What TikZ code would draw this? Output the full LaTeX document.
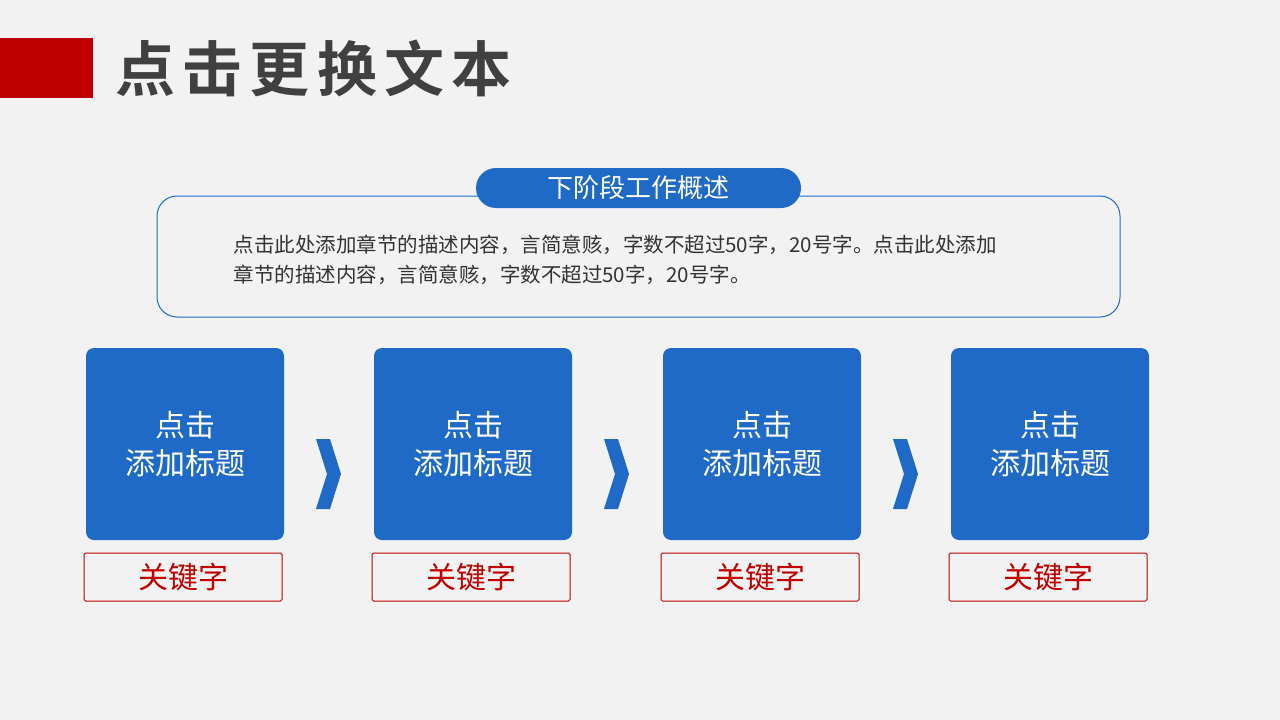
\documentclass[tikz,border=0pt]{standalone}
\usepackage{fontspec}
\newfontfamily\cjk{Noto Sans CJK SC}
\newfontfamily\cjkbold{Noto Sans CJK SC Bold}
\definecolor{bgray}{HTML}{F2F2F2}
\definecolor{mainblue}{HTML}{1F69C7}
\definecolor{mainred}{HTML}{C00000}
\definecolor{titlegray}{HTML}{404040}
\tikzset{
  stepbox/.style={fill=mainblue,rounded corners=8pt,minimum width=198pt,minimum height=192pt,text=white,font=\cjk\fontsize{30}{38}\selectfont,align=center},
  keybox/.style={draw=mainred,line width=1pt,rounded corners=1.5pt,minimum width=198pt,minimum height=48pt,text=mainred,font=\cjk\fontsize{30}{34}\selectfont},
  chevron/.style={fill=mainblue}
}
\begin{document}
\begin{tikzpicture}[x=1pt,y=-1pt]
% Hintergrund
\fill[bgray] (0,0) rectangle (1280,720);
\useasboundingbox (0,0) rectangle (1280,720);

% Titel
\fill[mainred] (0,38) rectangle (93,98);
\node[anchor=west,text=titlegray,font=\cjkbold\fontsize{60}{60}\selectfont\addfontfeature{LetterSpace=12}] (title) at (112,68) {点击更换文本};

% Beschreibung
\draw[mainblue,line width=1pt,rounded corners=20pt,fill=bgray] (157,196) rectangle (1120,317);
\node[fill=mainblue,rounded corners=20pt,minimum width=325pt,minimum height=40pt,text=white,font=\cjk\fontsize{26}{30}\selectfont] (pill) at (638.5,188) {下阶段工作概述};
\node[anchor=north west,align=left,text=titlegray!80!black,font=\cjk\fontsize{20.5}{30}\selectfont] (desc) at (230,231)
{点击此处添加章节的描述内容，言简意赅，字数不超过50字，20号字。点击此处添加\\章节的描述内容，言简意赅，字数不超过50字，20号字。};

% Schritte
\foreach \i/\x in {1/185,2/473,3/762,4/1050}{
  \node[stepbox] (step\i) at (\x,444) {点击\\添加标题};
  \node[keybox] (key\i) at (\x-2,577) {关键字};
}

% Pfeile
\foreach \x in {316,604,893}{
  \fill[chevron] (\x,439) -- (\x+14,439) -- (\x+25,474) -- (\x+14,509) -- (\x,509) -- (\x+11,474) -- cycle;
}
\end{tikzpicture}
\end{document}
